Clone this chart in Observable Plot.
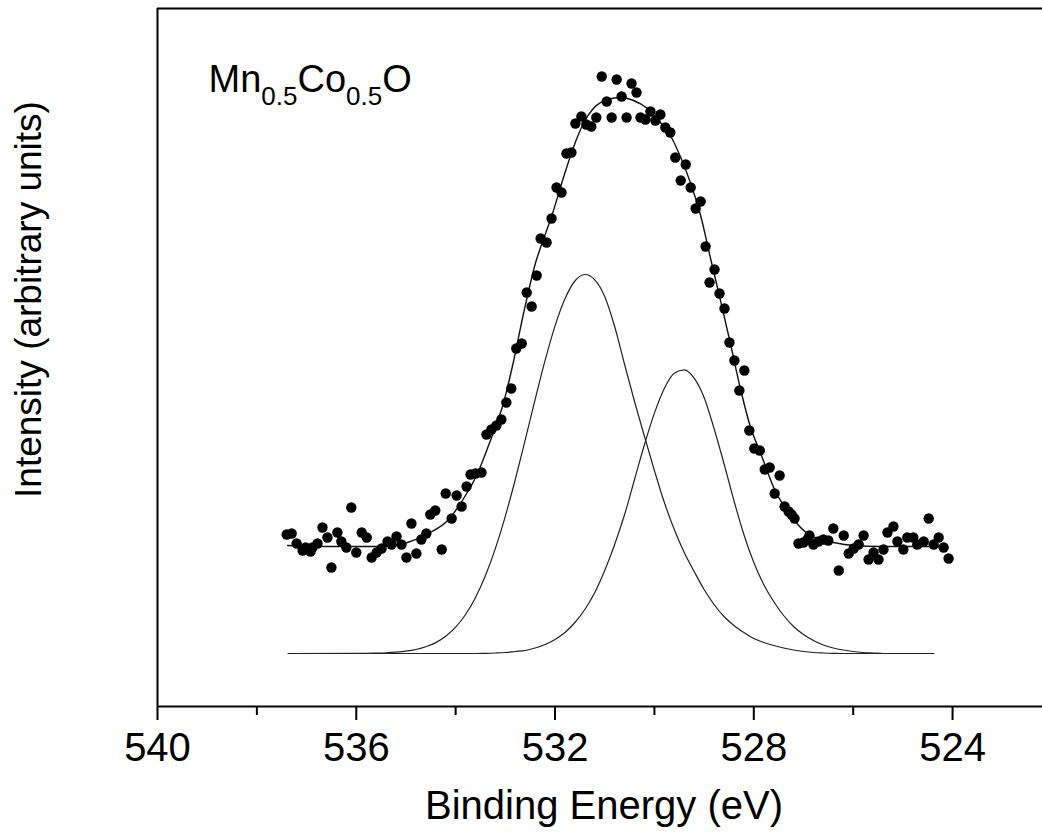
<!DOCTYPE html>
<html><head><meta charset="utf-8">
<script src="https://cdn.jsdelivr.net/npm/d3@7"></script>
<script src="https://cdn.jsdelivr.net/npm/@observablehq/plot@0.6"></script>
<style>html,body{margin:0;padding:0;background:#fff;} svg{display:block;}</style>
</head><body><div id="chart"></div>
<script>
// Measured XPS O 1s points (binding energy eV, intensity arb. units)
const energy = [537.40,537.30,537.20,537.08,537.02,536.92,536.88,536.78,536.68,536.58,536.50,536.38,536.30,536.20,536.10,536.00,535.89,535.79,535.69,535.59,535.49,535.37,535.29,535.19,535.09,534.99,534.89,534.79,534.69,534.59,534.51,534.41,534.28,534.20,534.08,533.98,533.88,533.78,
533.70,533.60,533.48,533.38,533.28,533.18,533.08,532.98,532.88,532.78,532.67,532.57,532.47,532.37,532.29,532.17,532.07,531.97,531.87,531.77,531.67,531.59,531.47,531.37,531.27,531.17,531.06,530.96,530.86,530.76,530.66,530.56,530.46,530.36,530.28,530.18,530.08,529.98,529.88,529.78,529.68,529.58,529.47,529.37,529.27,529.17,529.07,528.97,
528.89,528.79,528.69,528.59,528.49,528.39,528.29,528.19,528.09,527.99,527.88,527.78,527.68,527.58,527.48,527.38,527.30,527.24,527.18,
527.10,527.00,526.92,526.88,526.80,526.70,526.60,526.50,526.40,526.29,526.19,526.09,525.99,525.89,525.79,525.69,525.59,525.49,525.39,525.31,525.19,525.11,524.99,524.91,524.79,524.71,524.58,524.48,524.38,524.28,524.18,524.08];
const intensity = [1.72,1.73,1.63,1.56,1.59,1.55,1.59,1.63,1.79,1.69,1.39,1.74,1.65,1.59,1.99,1.54,1.74,1.69,1.49,1.54,1.58,1.65,1.62,1.70,1.62,1.49,1.83,1.53,1.67,1.73,1.92,1.96,1.57,2.13,1.88,2.11,2.00,2.20,
2.32,2.33,2.34,2.72,2.77,2.81,2.87,3.04,3.18,3.58,3.63,4.14,4.00,4.31,4.68,4.64,4.88,5.19,5.14,5.53,5.54,5.83,5.90,5.82,5.80,5.89,6.30,6.05,5.89,6.27,6.10,5.89,6.23,6.14,5.89,5.87,5.95,5.86,5.92,5.79,5.74,5.49,5.26,5.42,5.19,4.98,5.05,4.60,
4.24,4.37,4.13,3.98,3.64,3.46,3.16,3.36,2.76,2.58,2.56,2.37,2.39,2.13,2.31,2.00,1.95,1.92,1.88,
1.63,1.64,1.67,1.71,1.62,1.65,1.67,1.66,1.78,1.36,1.71,1.53,1.58,1.62,1.71,1.47,1.54,1.47,1.57,1.74,1.80,1.65,1.57,1.69,1.69,1.62,1.65,1.88,1.62,1.69,1.59,1.48];

// Fitted envelope
const fitEnergy = [537.38,536.52,535.51,534.97,534.51,534.16,533.84,533.56,533.30,533.04,532.84,532.63,532.39,532.19,532.05,531.83,531.63,531.43,531.23,530.94,530.68,530.42,530.14,529.88,529.68,529.47,529.27,529.07,528.87,528.67,528.47,528.27,528.07,527.86,527.60,527.26,526.92,526.66,526.40,525.99,525.45,524.10];
const fitIntensity = [1.61,1.60,1.60,1.64,1.74,1.86,2.08,2.33,2.66,3.03,3.44,3.94,4.44,4.73,4.93,5.29,5.59,5.83,5.98,6.07,6.09,6.06,5.98,5.84,5.71,5.49,5.23,4.91,4.48,4.06,3.63,3.18,2.80,2.53,2.19,1.91,1.73,1.67,1.64,1.61,1.60,1.60];

// Component peaks
const compEnergy = [537.37,535.8,535.6,535.4,535.2,535.0,534.8,534.6,534.4,534.2,534.0,533.8,533.6,533.4,533.2,533.0,532.8,532.6,532.4,532.2,532.0,531.8,531.6,531.4,531.2,531.0,530.8,530.6,530.4,530.2,530.0,529.8,529.6,529.4,529.2,529.0,528.8,528.6,528.4,528.2,528.0,527.8,527.6,527.4,527.2,527.0,526.8,526.6,526.4,526.2,526.0,525.8,525.6,525.4,524.38];
const comp1 = [0.530,0.532,0.534,0.537,0.543,0.553,0.570,0.597,0.639,0.702,0.793,0.920,1.090,1.309,1.581,1.904,2.270,2.666,3.072,3.461,3.806,4.077,4.255,4.320,4.267,4.100,3.800,3.420,3.050,2.700,2.360,2.040,1.770,1.540,1.350,1.170,1.020,0.900,0.810,0.740,0.680,0.640,0.610,0.585,0.565,0.550,0.540,0.535,0.532,0.530,0.530,0.530,0.530,0.530,0.530];
const comp2 = [0.530,0.530,0.530,0.530,0.530,0.530,0.530,0.530,0.530,0.530,0.530,0.530,0.530,0.532,0.535,0.540,0.550,0.560,0.585,0.620,0.670,0.740,0.840,0.970,1.140,1.360,1.620,1.920,2.270,2.620,2.934,3.181,3.332,3.367,3.284,3.090,2.780,2.430,2.060,1.720,1.440,1.220,1.050,0.910,0.800,0.720,0.660,0.615,0.585,0.565,0.550,0.540,0.535,0.530,0.530];

const majorTicks = [540, 536, 532, 528, 524];
const minorTicks = [538, 534, 530, 526];
const xLabel = "Binding Energy (eV)";
const yLabel = "Intensity (arbitrary units)";
const sampleLabel = "Mn0.5Co0.5O";

const pts = energy.map((x, i) => ({x, y: intensity[i]}));
const fit = fitEnergy.map((x, i) => ({x, y: fitIntensity[i]}));
const c1 = compEnergy.map((x, i) => ({x, y: comp1[i]}));
const c2 = compEnergy.map((x, i) => ({x, y: comp2[i]}));

const chart = Plot.plot({
  width: 1042, height: 837,
  marginLeft: 157, marginRight: 0, marginTop: 8, marginBottom: 131,
  style: {fontFamily: '"Liberation Sans", Arial, Helvetica, sans-serif', background: "#fff", color: "#000"},
  x: {domain: [540, 522.19], axis: null},
  y: {domain: [0, 6.98], axis: null},
  marks: [
    Plot.line(c1, {x: "x", y: "y", curve: "monotone-x", stroke: "#222", strokeWidth: 1.2}),
    Plot.line(c2, {x: "x", y: "y", curve: "monotone-x", stroke: "#222", strokeWidth: 1.2}),
    Plot.line(fit, {x: "x", y: "y", curve: "monotone-x", stroke: "#111", strokeWidth: 1.4}),
    Plot.dot(pts, {x: "x", y: "y", r: 5.2, fill: "#000", stroke: "none"}),
    Plot.ruleX([540], {stroke: "#000", strokeWidth: 2}),
    Plot.ruleY([0, 6.98], {stroke: "#000", strokeWidth: 2}),
    Plot.axisX(majorTicks, {tickSize: 14, tickPadding: 12, fontSize: 40, strokeWidth: 2, label: null}),
    Plot.axisX(minorTicks, {tickSize: 9, tickFormat: () => "", strokeWidth: 2, label: null}),
    Plot.text([xLabel], {text: d => d, frameAnchor: "bottom", textAnchor: "middle", lineAnchor: "top", dx: 4, dy: 84, fontSize: 40, fill: "#000"}),
    Plot.text([yLabel], {text: d => d, frameAnchor: "left", rotate: -90, textAnchor: "middle", lineAnchor: "middle", dx: -128, dy: -58, fontSize: 37, fill: "#000"}),
    Plot.text([sampleLabel], {text: d => d, frameAnchor: "top-left", textAnchor: "start", lineAnchor: "top", dx: 51, dy: 57, fontSize: 38, fill: "#000"})
  ]
});

d3.select(chart).selectAll("text")
  .filter(function() { return this.textContent === sampleLabel; })
  .each(function() {
    const t = d3.select(this);
    t.text("");
    const parts = [["Mn", 0, null], ["0.5", 13, 26], ["Co", -13, null], ["0.5", 13, 26], ["O", -13, null]];
    parts.forEach(([s, dy, fs]) => {
      const ts = t.append("tspan").text(s);
      if (dy) ts.attr("dy", dy);
      if (fs) ts.attr("font-size", fs);
    });
  });

document.getElementById("chart").appendChild(chart);
</script>
</body></html>
